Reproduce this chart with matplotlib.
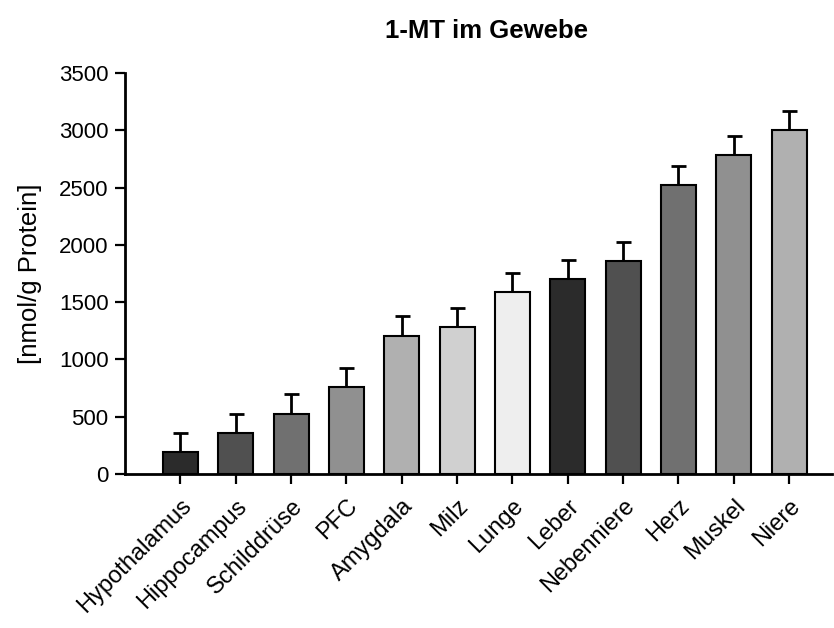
import matplotlib
matplotlib.use("Agg")
import matplotlib.pyplot as plt
import numpy as np

plt.rcParams["font.family"] = ["Liberation Sans", "DejaVu Sans"]

# --- Data --------------------------------------------------------------------
tissues = ["Hypothalamus", "Hippocampus", "Schilddrüse", "PFC", "Amygdala", "Milz",
           "Lunge", "Leber", "Nebenniere", "Herz", "Muskel", "Niere"]
means = [195, 361, 527, 763, 1206, 1279, 1588, 1702, 1859, 2520, 2780, 2998]
errors = [165, 163, 170, 164, 169, 169, 169, 168, 166, 169, 166, 166]
greys = ["#2b2b2b", "#505050", "#707070", "#909090", "#b0b0b0", "#d0d0d0",
         "#eeeeee", "#2b2b2b", "#505050", "#707070", "#909090", "#b0b0b0"]

# --- Plot --------------------------------------------------------------------
fig = plt.figure(figsize=(8.34, 6.28), dpi=100)
ax = fig.add_axes([0.150, 0.245, 0.848, 0.639])

x = np.arange(len(tissues))
ax.bar(x, means, width=0.63, color=greys, edgecolor="black", linewidth=1.5,
       zorder=2)
ax.errorbar(x, means, yerr=[np.zeros(len(errors)), errors], fmt="none",
            ecolor="black", elinewidth=2, capsize=5.4, capthick=2, zorder=1)

ax.set_xlim(-1, 11.78)
ax.set_ylim(0, 3500)
ax.set_yticks(np.arange(0, 3501, 500))
ax.set_xticks(x)
ax.set_xticklabels(tissues, rotation=45, ha="right", rotation_mode="anchor")

for side in ("top", "right"):
    ax.spines[side].set_visible(False)
for side in ("left", "bottom"):
    ax.spines[side].set_linewidth(2)

ax.tick_params(axis="both", direction="out", length=7, width=1.6,
               labelsize=16, pad=5)
ax.tick_params(axis="x", labelsize=17, pad=8)

ax.set_ylabel("[nmol/g Protein]", fontsize=18.5, labelpad=12)
fig.text(0.583, 0.950, "1-MT im Gewebe", ha="center", va="center",
         fontsize=18.5, fontweight="bold")

fig.savefig("out.png", dpi=100)
